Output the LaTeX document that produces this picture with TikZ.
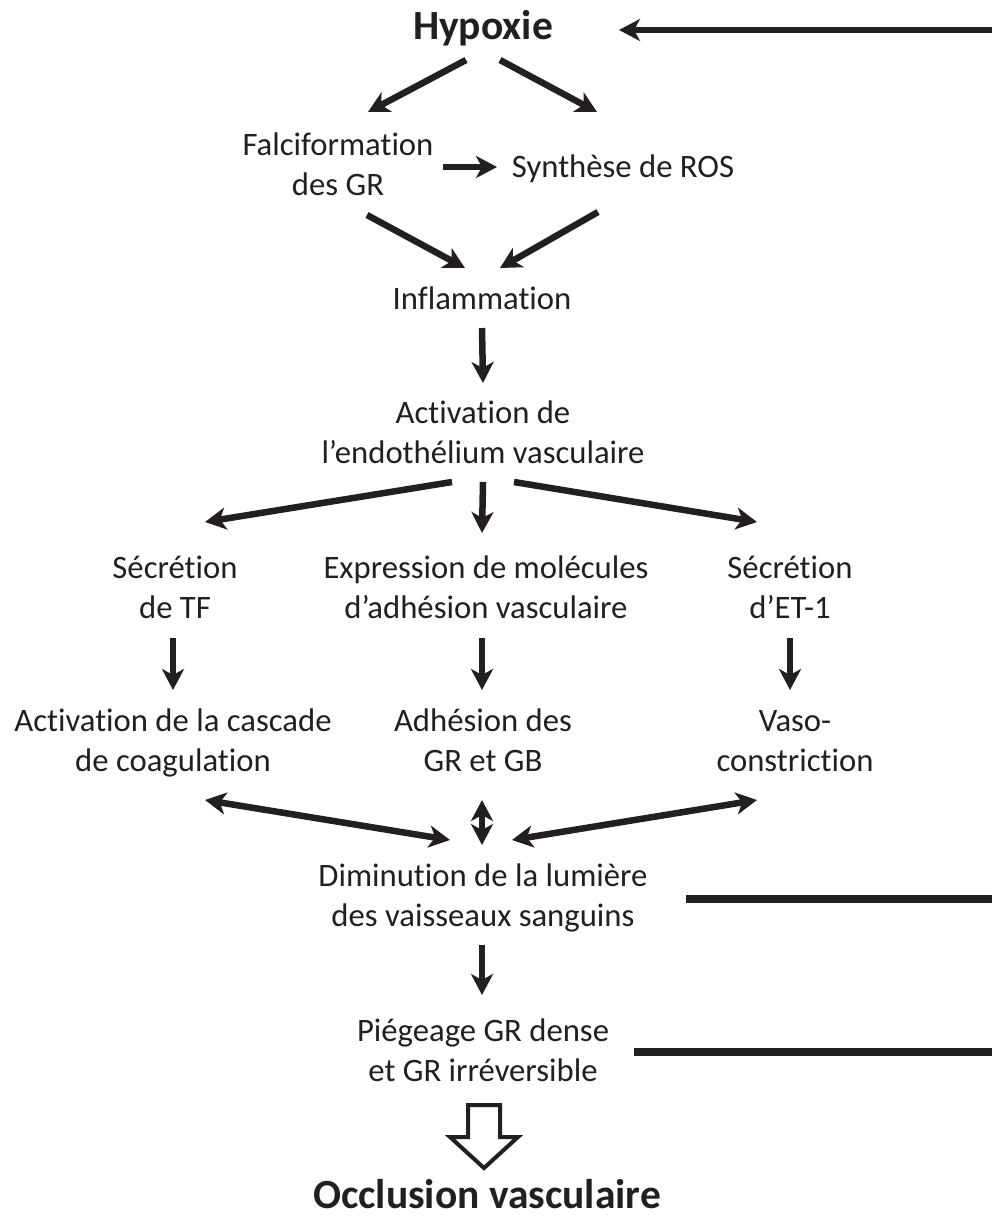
\documentclass[tikz,border=0pt]{standalone}
\usepackage{fontspec}
\setmainfont{Carlito}[Ligatures={NoCommon,NoRare,NoDiscretionary},RawFeature=-liga,RawFeature=-calt,RawFeature=-clig]
\usetikzlibrary{arrows.meta,calc}
\definecolor{ink}{RGB}{35,31,32}
\newcommand{\ml}[1]{\begin{tabular}[t]{@{}c@{}}#1\end{tabular}}
\tikzset{
  txt/.style={font=\fontsize{32.7}{40}\selectfont, inner sep=0pt, anchor=base, text=ink},
  big/.style={font=\fontsize{41.5}{50}\selectfont\bfseries, inner sep=0pt, anchor=base, text=ink},
  arr/.style={draw=ink, line width=6.5pt, -{Stealth[length=21pt,width=22pt,inset=6pt]}},
  darr/.style={draw=ink, line width=6.5pt, {Stealth[length=21pt,width=22pt,inset=6pt]}-{Stealth[length=21pt,width=22pt,inset=6pt]}},
  bar/.style={draw=ink, line width=7.5pt},
  hollow/.style={draw=ink, line width=4pt, fill=white, line join=miter}
}
\begin{document}
\begin{tikzpicture}[x=1pt,y=-1pt]
\useasboundingbox (0,0) rectangle (992,1216);
\fill[white] (0,0) rectangle (992,1216);
% nodes
\node[big] (hyp) at (483,39) {Hypoxie};
\node[txt] (falc) at (338,155) {\ml{Falciformation\\des GR}};
\node[txt] (ros) at (623,177) {Synthèse de ROS};
\node[txt] (infl) at (482,309) {Inflammation};
\node[txt] (act) at (483,423) {\ml{Activation de\\l’endothélium vasculaire}};
\node[txt] (tf) at (175,578) {\ml{Sécrétion\\de TF}};
\node[txt] (expr) at (486,578) {\ml{Expression de molécules\\d’adhésion vasculaire}};
\node[txt] (et) at (790,578) {\ml{Sécrétion\\d’ET-1}};
\node[txt] (coag) at (173,731) {\ml{Activation de la cascade\\de coagulation}};
\node[txt] (adh) at (483,731) {\ml{Adhésion des\\GR et GB}};
\node[txt] (vaso) at (795,731) {\ml{Vaso-\\constriction}};
\node[txt] (dim) at (483,886) {\ml{Diminution de la lumière\\des vaisseaux sanguins}};
\node[txt] (pie) at (483,1041) {\ml{Piégeage GR dense\\et GR irréversible}};
\node[big] (occ) at (487,1208) {Occlusion vasculaire};
\coordinate (fb) at (992,30);
\coordinate (e1) at (992,899);
\coordinate (e2) at (992,1052);
% connectors
\draw[arr] (fb) -- ($(hyp.base)+(136,-9)$);
\draw[arr] ($(hyp.base)+(-17,21)$) -- ($(falc.base)+(30,-43)$);
\draw[arr] ($(hyp.base)+(17,21)$) -- ($(ros.base)+(-26,-65)$);
\draw[arr] ($(falc.base)+(105,12)$) -- ($(ros.base)+(-126,-10)$);
\draw[arr] ($(falc.base)+(29,60)$) -- ($(infl.base)+(-17,-41)$);
\draw[arr] ($(ros.base)+(-25,35)$) -- ($(infl.base)+(18,-41)$);
\draw[arr] ($(infl.base)+(0,19)$) -- ($(act.base)+(0,-40)$);
\draw[arr] ($(act.base)+(-31,59)$) -- ($(tf.base)+(30,-56)$);
\draw[arr] ($(act.base)+(0,59)$) -- ($(expr.base)+(-4,-45)$);
\draw[arr] ($(act.base)+(31,59)$) -- ($(et.base)+(-33,-56)$);
\draw[arr] ($(tf.base)+(-2,60)$) -- ($(coag.base)+(0,-41)$);
\draw[arr] ($(expr.base)+(-4,60)$) -- ($(adh.base)+(-1,-41)$);
\draw[arr] ($(et.base)+(0,60)$) -- ($(vaso.base)+(-5,-41)$);
\draw[darr] ($(coag.base)+(32,69)$) -- ($(dim.base)+(-33,-46)$);
\draw[darr] ($(adh.base)+(-1,69)$) -- ($(dim.base)+(-1,-41)$);
\draw[darr] ($(vaso.base)+(-38,69)$) -- ($(dim.base)+(29,-46)$);
\draw[bar] ($(dim.base)+(203,13)$) -- (e1);
\draw[arr] ($(dim.base)+(-1,59)$) -- ($(pie.base)+(-1,-46)$);
\draw[bar] ($(pie.base)+(151,11)$) -- (e2);
\draw[hollow] ($(pie.base)+(-15,64)$) -- ++(32,0) -- ++(0,32) -- ++(18,0)
  -- ($(occ.base)+(-3,-40)$) -- ++(-34,-31) -- ++(18,0) -- cycle;
\end{tikzpicture}
\end{document}
